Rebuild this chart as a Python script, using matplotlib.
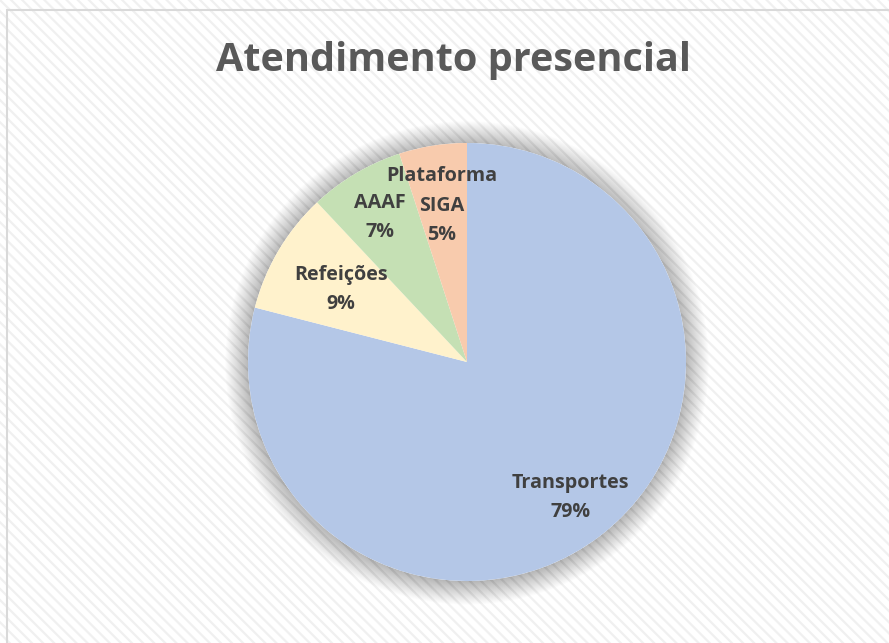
import numpy as np
import matplotlib.pyplot as plt
from matplotlib.patches import Rectangle, Circle

categorias = ['Transportes', 'Refeições', 'AAAF', 'Plataforma\nSIGA']
valores = [79, 9, 7, 5]
cores = ['#B4C7E7', '#FFF2CC', '#C5E0B4', '#F8CBAD']
dist_rotulo = [0.77, 0.67, 0.78, 0.735]

plt.rcParams['font.family'] = ['Open Sans', 'DejaVu Sans']
plt.rcParams['hatch.linewidth'] = 1.6

W, H = 889, 643
fig = plt.figure(figsize=(W / 100, H / 100), dpi=100)
fig.patch.set_facecolor('white')

# fundo listrado
fundo = Rectangle((0, 0), 1, 1, transform=fig.transFigure, facecolor='white',
                  edgecolor='#f0f0f0', hatch='\\\\\\', linewidth=0, zorder=0)
fig.patches.append(fundo)
# moldura
moldura = Rectangle((7 / W, -0.05), 1.1, 1.05 - 10 / H, transform=fig.transFigure,
                    facecolor='none', edgecolor='#d9d9d9', linewidth=1.5, zorder=1)
fig.patches.append(moldura)

cx, cy, r = 467, 362, 219
ax = fig.add_axes([(cx - r) / W, (H - cy - r) / H, 2 * r / W, 2 * r / H])
ax.set_zorder(3)
ax.patch.set_visible(False)
ax.axis('off')

# sombra suave
for i in range(24):
    ax.add_patch(Circle((0, -0.004), 1 + i * 0.0045, facecolor='#000000',
                        alpha=0.010, edgecolor='none', clip_on=False, zorder=0))
ax.add_patch(Circle((0, 0), 1, facecolor='white', edgecolor='none', zorder=1))

wedges, _ = ax.pie(valores, colors=cores, startangle=90, counterclock=False,
                   radius=1, wedgeprops=dict(linewidth=0))
for w in wedges:
    w.set_zorder(2)

# rótulos linha a linha (espaçamento de ~29 px)
passo = 20.9
total = sum(valores)
for w, cat, v, d in zip(wedges, categorias, valores, dist_rotulo):
    ang = np.deg2rad((w.theta1 + w.theta2) / 2)
    linhas = f'{cat}\n{v / total:.0%}'.split('\n')
    n = len(linhas)
    for k, lin in enumerate(linhas):
        ax.annotate(lin, xy=(d * np.cos(ang), d * np.sin(ang)),
                    xytext=(0, ((n - 1) / 2 - k) * passo), textcoords='offset points',
                    ha='center', va='center_baseline', fontsize=14.2, fontweight='bold',
                    color='#404040', zorder=3)
ax.set_xlim(-1, 1)
ax.set_ylim(-1, 1)
ax.set_aspect('equal')

fig.text(453 / W, 1 - 61 / H, 'Atendimento presencial', ha='center', va='center',
         fontsize=28.5, fontweight='bold', color='#595959')

fig.savefig('out.png', dpi=100)
